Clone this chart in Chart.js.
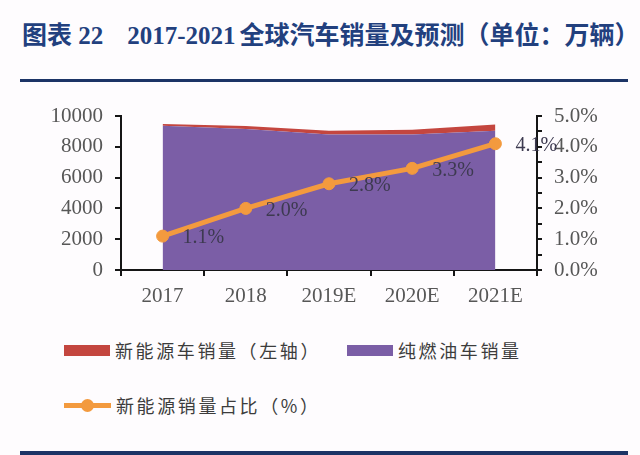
<!DOCTYPE html>
<html>
<head>
<meta charset="utf-8">
<script src="https://cdn.jsdelivr.net/npm/chart.js@4.4.0/dist/chart.umd.min.js"></script>
<style>
    body { margin: 0; background: #fefcfe; }
    #halaman { position: relative; width: 640px; height: 455px; overflow: hidden; background: #fefcfe; }
    #judul {
        position: absolute; left: 22px; top: 16px; white-space: nowrap;
        font-family: "Liberation Serif", "Noto Sans CJK SC"; font-weight: bold;
        font-size: 25px; line-height: 34px; color: #22407e;
    }
    #judul .cjk { font-family: "Noto Sans CJK SC"; }
    .garis { position: absolute; left: 20px; width: 608px; background: #1c3466; }
    #wadah { position: absolute; left: 0; top: 85px; width: 640px; height: 230px; }
    #legenda {
        position: absolute; left: 64px; top: 339px; width: 500px;
        display: flex; flex-wrap: wrap; column-gap: 26px; row-gap: 33px;
    }
    .item {
        display: flex; align-items: center; height: 22px;
        font-family: "Noto Sans CJK SC"; font-size: 18px; letter-spacing: 2.6px; color: #3c3c3c;
    }
    .kotak { width: 46px; height: 11px; margin-right: 5px; }
    .garisTitik { position: relative; width: 47px; height: 5px; margin-right: 5px; }
    .garisTitik span {
        position: absolute; left: 17px; top: -4px; width: 13px; height: 13px; border-radius: 50%;
    }
</style>
</head>
<body>
<div id="halaman">
    <div id="judul"><span class="cjk">图表</span> 22<span style="margin-left:24px">2017-2021</span><span class="cjk" style="margin-left:4px">全球汽车销量及预测（单位：万辆）</span></div>
    <div class="garis" style="top:79px;height:3px"></div>
    <div id="wadah"><canvas id="grafikPenjualan" width="640" height="230"></canvas></div>
    <div id="legenda"></div>
    <div class="garis" style="top:451px;height:4px"></div>
</div>
<script>
// data (万辆)
const tahun = ['2017', '2018', '2019E', '2020E', '2021E'];
const penjualanEV = [105, 190, 250, 300, 400];
const penjualanBBM = [9370, 9160, 8800, 8800, 9050];
const persenEV = [1.1, 2.0, 2.8, 3.3, 4.1];

// sumbu
const sumbuKiri = { min: 0, max: 10000, step: 2000 };
const sumbuKanan = { min: 0, max: 5, step: 0.5 };

const warnaEV = '#c4463f';
const warnaBBM = '#7b5ea6';
const warnaPersen = '#f39a3e';
const warnaSumbu = '#151515';
const warnaTeks = '#575757';

const hurufAngka = { family: '"Liberation Serif"', size: 21 };

// label persen di samping titik
const labelPersen = {
    id: 'labelPersen',
    afterDatasetsDraw(chart) {
        const ctx = chart.ctx;
        const meta = chart.getDatasetMeta(0);
        ctx.save();
        ctx.font = '20px "Liberation Serif"';
        ctx.fillStyle = '#3d3a50';
        ctx.textAlign = 'left';
        ctx.textBaseline = 'middle';
        meta.data.forEach((titik, i) => {
            ctx.fillText(persenEV[i].toFixed(1) + '%', titik.x + 20, titik.y + 2);
        });
        ctx.restore();
    }
};

const ctx = document.getElementById('grafikPenjualan').getContext('2d');
const grafikPenjualan = new Chart(ctx, {
    type: 'line',
    data: {
        labels: tahun,
        datasets: [
            {
                label: '新能源销量占比（%）',
                data: persenEV,
                yAxisID: 'y1',
                borderColor: warnaPersen,
                backgroundColor: warnaPersen,
                borderWidth: 5,
                pointRadius: 6,
                pointBorderWidth: 1,
                pointBackgroundColor: warnaPersen,
                fill: false,
                order: 0
            },
            {
                label: '纯燃油车销量',
                data: penjualanBBM,
                yAxisID: 'y',
                borderColor: warnaBBM,
                backgroundColor: warnaBBM,
                borderWidth: 0,
                pointRadius: 0,
                fill: 'origin',
                order: 1
            },
            {
                label: '新能源车销量（左轴）',
                data: penjualanEV,
                yAxisID: 'y',
                borderColor: warnaEV,
                backgroundColor: warnaEV,
                borderWidth: 0,
                pointRadius: 0,
                fill: '-1',
                order: 2
            }
        ]
    },
    options: {
        responsive: false,
        animation: false,
        layout: { padding: { top: 31, left: 0, right: 0, bottom: 0 } },
        plugins: {
            legend: { display: false },
            tooltip: { enabled: false }
        },
        scales: {
            x: {
                offset: true,
                grid: { offset: true, drawOnChartArea: false, tickLength: 6, tickColor: warnaSumbu, lineWidth: 2 },
                border: { color: warnaSumbu, width: 2 },
                ticks: { font: hurufAngka, color: warnaTeks, padding: 8, maxRotation: 0 },
                afterFit(scale) { scale.height = 45; }
            },
            y: {
                position: 'left',
                stacked: true,
                min: sumbuKiri.min,
                max: sumbuKiri.max,
                grid: { drawOnChartArea: false, tickLength: 6, tickColor: warnaSumbu, lineWidth: 2 },
                border: { color: warnaSumbu, width: 2 },
                ticks: {
                    stepSize: sumbuKiri.step,
                    font: hurufAngka,
                    color: warnaTeks,
                    padding: 12,
                    autoSkip: false,
                    callback: (v) => String(v)
                },
                afterFit(scale) { scale.width = 121; }
            },
            y1: {
                position: 'right',
                min: sumbuKanan.min,
                max: sumbuKanan.max,
                grid: { drawOnChartArea: false, tickLength: 5, tickColor: warnaSumbu, lineWidth: 2 },
                border: { color: warnaSumbu, width: 2 },
                ticks: {
                    stepSize: sumbuKanan.step,
                    font: hurufAngka,
                    color: warnaTeks,
                    padding: 12,
                    autoSkip: false,
                    callback: (v) => (Math.abs(v - Math.round(v)) < 1e-6 ? v.toFixed(1) + '%' : '')
                },
                afterFit(scale) { scale.width = 103; }
            }
        }
    },
    plugins: [labelPersen]
});

// legenda html, urutan seperti gambar
const legenda = document.getElementById('legenda');
[2, 1, 0].forEach((idx) => {
    const ds = grafikPenjualan.data.datasets[idx];
    const item = document.createElement('div');
    item.className = 'item';
    if (idx === 0) {
        item.innerHTML = `<div class="garisTitik" style="background:${ds.borderColor}"><span style="background:${ds.borderColor}"></span></div>${ds.label}`;
    } else {
        item.innerHTML = `<div class="kotak" style="background:${ds.backgroundColor}"></div>${ds.label}`;
    }
    legenda.appendChild(item);
});
</script>
</body>
</html>
